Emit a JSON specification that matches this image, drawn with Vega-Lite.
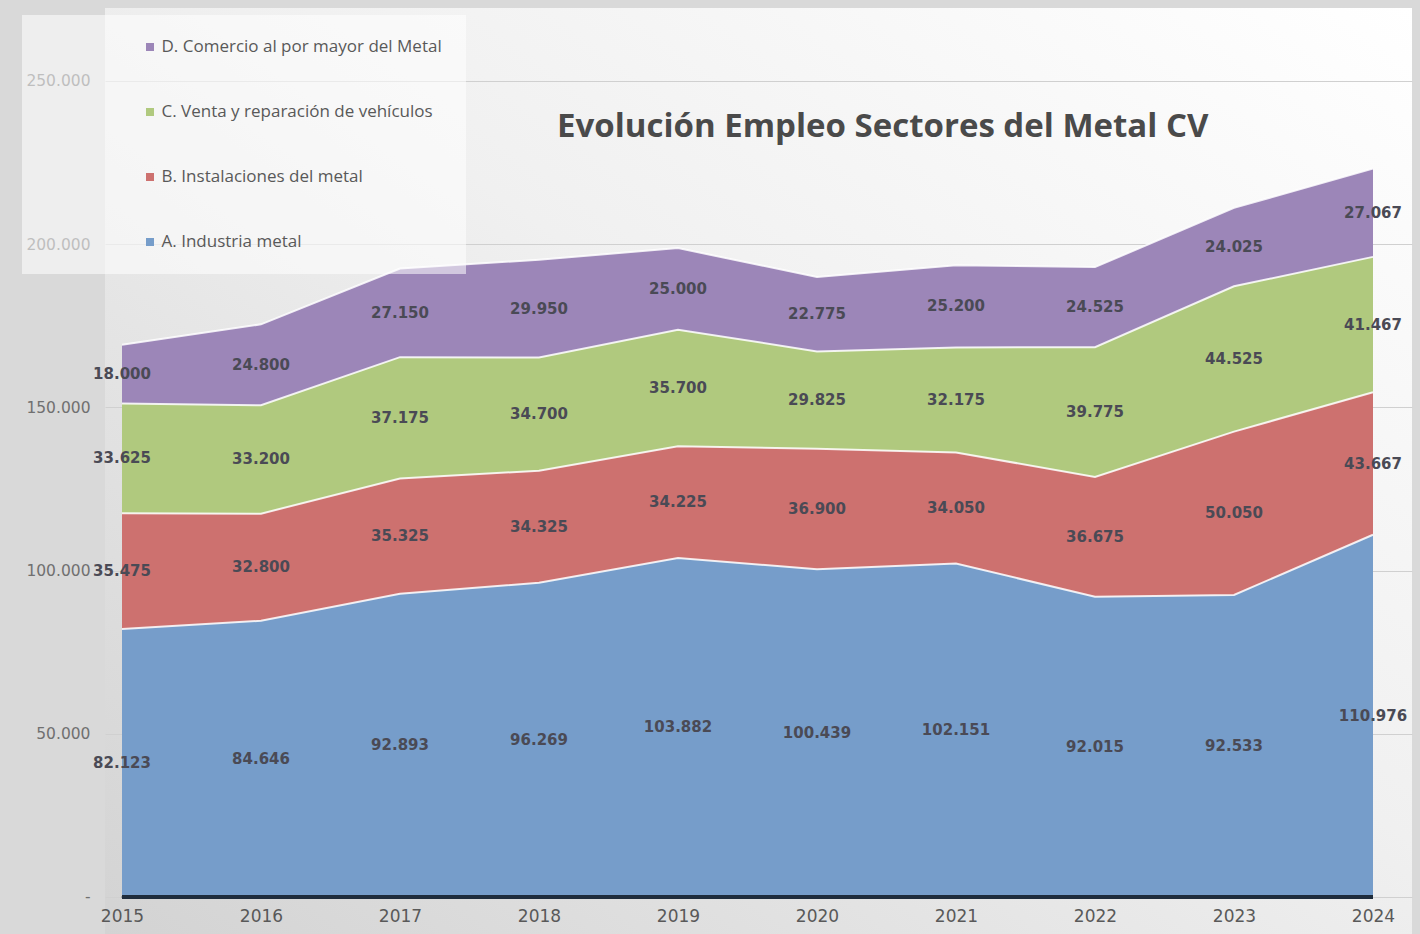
{
  "$schema": "https://vega.github.io/schema/vega-lite/v6.json",
  "width": 1307,
  "height": 926,
  "autosize": "none",
  "padding": {"left": 105, "top": 8, "right": 8, "bottom": 0},
  "background": "#d9d9d9",
  "config": {
    "locale": {"number": {"decimal": ",", "thousands": ".", "grouping": [3], "currency": ["", " €"]}},
    "view": {
      "stroke": null,
      "fill": {
        "gradient": "linear", "x1": 0, "y1": 1, "x2": 1, "y2": 0,
        "stops": [
          {"offset": 0, "color": "#d3d3d3"},
          {"offset": 0.55, "color": "#f0f0f0"},
          {"offset": 1, "color": "#ffffff"}
        ]
      }
    },
    "font": "DejaVu Sans"
  },
  "title": {
    "text": "Evolución Empleo Sectores del Metal CV",
    "anchor": "start",
    "frame": "group",
    "orient": "top",
    "offset": 0,
    "dx": 452,
    "dy": 152,
    "baseline": "middle",
    "font": "Open Sans",
    "fontSize": 33,
    "fontWeight": "bold",
    "color": "#4a4a4a"
  },
  "data": {
    "values": [
      {"anio": 2015, "sector": "A. Industria metal", "empleo": 82123},
      {"anio": 2016, "sector": "A. Industria metal", "empleo": 84646},
      {"anio": 2017, "sector": "A. Industria metal", "empleo": 92893},
      {"anio": 2018, "sector": "A. Industria metal", "empleo": 96269},
      {"anio": 2019, "sector": "A. Industria metal", "empleo": 103882},
      {"anio": 2020, "sector": "A. Industria metal", "empleo": 100439},
      {"anio": 2021, "sector": "A. Industria metal", "empleo": 102151},
      {"anio": 2022, "sector": "A. Industria metal", "empleo": 92015},
      {"anio": 2023, "sector": "A. Industria metal", "empleo": 92533},
      {"anio": 2024, "sector": "A. Industria metal", "empleo": 110976},
      {"anio": 2015, "sector": "B. Instalaciones del metal", "empleo": 35475},
      {"anio": 2016, "sector": "B. Instalaciones del metal", "empleo": 32800},
      {"anio": 2017, "sector": "B. Instalaciones del metal", "empleo": 35325},
      {"anio": 2018, "sector": "B. Instalaciones del metal", "empleo": 34325},
      {"anio": 2019, "sector": "B. Instalaciones del metal", "empleo": 34225},
      {"anio": 2020, "sector": "B. Instalaciones del metal", "empleo": 36900},
      {"anio": 2021, "sector": "B. Instalaciones del metal", "empleo": 34050},
      {"anio": 2022, "sector": "B. Instalaciones del metal", "empleo": 36675},
      {"anio": 2023, "sector": "B. Instalaciones del metal", "empleo": 50050},
      {"anio": 2024, "sector": "B. Instalaciones del metal", "empleo": 43667},
      {"anio": 2015, "sector": "C. Venta y reparación de vehículos", "empleo": 33625},
      {"anio": 2016, "sector": "C. Venta y reparación de vehículos", "empleo": 33200},
      {"anio": 2017, "sector": "C. Venta y reparación de vehículos", "empleo": 37175},
      {"anio": 2018, "sector": "C. Venta y reparación de vehículos", "empleo": 34700},
      {"anio": 2019, "sector": "C. Venta y reparación de vehículos", "empleo": 35700},
      {"anio": 2020, "sector": "C. Venta y reparación de vehículos", "empleo": 29825},
      {"anio": 2021, "sector": "C. Venta y reparación de vehículos", "empleo": 32175},
      {"anio": 2022, "sector": "C. Venta y reparación de vehículos", "empleo": 39775},
      {"anio": 2023, "sector": "C. Venta y reparación de vehículos", "empleo": 44525},
      {"anio": 2024, "sector": "C. Venta y reparación de vehículos", "empleo": 41467},
      {"anio": 2015, "sector": "D. Comercio al por mayor del Metal", "empleo": 18000},
      {"anio": 2016, "sector": "D. Comercio al por mayor del Metal", "empleo": 24800},
      {"anio": 2017, "sector": "D. Comercio al por mayor del Metal", "empleo": 27150},
      {"anio": 2018, "sector": "D. Comercio al por mayor del Metal", "empleo": 29950},
      {"anio": 2019, "sector": "D. Comercio al por mayor del Metal", "empleo": 25000},
      {"anio": 2020, "sector": "D. Comercio al por mayor del Metal", "empleo": 22775},
      {"anio": 2021, "sector": "D. Comercio al por mayor del Metal", "empleo": 25200},
      {"anio": 2022, "sector": "D. Comercio al por mayor del Metal", "empleo": 24525},
      {"anio": 2023, "sector": "D. Comercio al por mayor del Metal", "empleo": 24025},
      {"anio": 2024, "sector": "D. Comercio al por mayor del Metal", "empleo": 27067}
    ]
  },
  "transform": [
    {"stack": "empleo", "groupby": ["anio"], "sort": [{"field": "sector", "order": "ascending"}], "as": ["y0", "y1"]}
  ],
  "layer": [
    {
      "mark": {"type": "area"},
      "encoding": {
        "x": {
          "field": "anio", "type": "quantitative",
          "scale": {"domain": [2014.8777, 2024.2806], "nice": false, "zero": false},
          "axis": {
            "values": [2015, 2016, 2017, 2018, 2019, 2020, 2021, 2022, 2023, 2024],
            "format": "d", "orient": "bottom", "offset": -37,
            "domain": false, "ticks": false, "grid": false,
            "labelFontSize": 17, "labelColor": "#595959", "labelPadding": 11,
            "title": null
          }
        },
        "y": {
          "field": "y1", "type": "quantitative",
          "scale": {"domain": [-11336, 272365], "nice": false, "zero": false},
          "axis": {
            "values": [0, 50000, 100000, 150000, 200000, 250000],
            "format": ",d",
            "labelExpr": "datum.value == 0 ? '-' : datum.label",
            "domain": false, "ticks": false, "grid": true,
            "gridColor": "#d0d0d0", "gridWidth": 1,
            "labelFontSize": 15.5, "labelColor": "#707070", "labelPadding": 15,
            "title": null
          }
        },
        "y2": {"field": "y0"},
        "color": {
          "field": "sector", "type": "nominal",
          "scale": {
            "domain": ["D. Comercio al por mayor del Metal", "C. Venta y reparación de vehículos", "B. Instalaciones del metal", "A. Industria metal"],
            "range": ["#9c86b8", "#b0c97e", "#cd716f", "#769dca"]
          },
          "legend": {
            "orient": "none", "legendX": -83, "legendY": 7,
            "fillColor": "rgba(255,255,255,0.55)",
            "padding": 23.5, "rowPadding": 47,
            "symbolType": "square", "symbolSize": 64, "symbolStrokeWidth": 0,
            "symbolOffset": 96, "labelOffset": 3,
            "labelFontSize": 17, "labelFont": "Open Sans", "labelColor": "#595959", "labelLimit": 400,
            "title": null
          }
        }
      }
    },
    {
      "mark": {"type": "line", "color": "#ffffff", "strokeWidth": 2, "opacity": 0.85},
      "encoding": {
        "x": {"field": "anio", "type": "quantitative"},
        "y": {"field": "y1", "type": "quantitative"},
        "detail": {"field": "sector"}
      }
    },
    {
      "transform": [{"calculate": "(datum.y0 + datum.y1) / 2", "as": "ymid"}],
      "mark": {"type": "text", "fontWeight": "bold", "fontSize": 15, "color": "#4a4a55", "align": "center", "baseline": "middle", "font": "DejaVu Sans"},
      "encoding": {
        "x": {"field": "anio", "type": "quantitative"},
        "y": {"field": "ymid", "type": "quantitative"},
        "text": {"field": "empleo", "type": "quantitative", "format": ",d"}
      }
    },
    {
      "mark": {"type": "rule", "color": "#1f2d3d", "strokeWidth": 3},
      "encoding": {
        "x": {"datum": 2015},
        "x2": {"datum": 2024},
        "y": {"datum": 0}
      }
    }
  ]
}
